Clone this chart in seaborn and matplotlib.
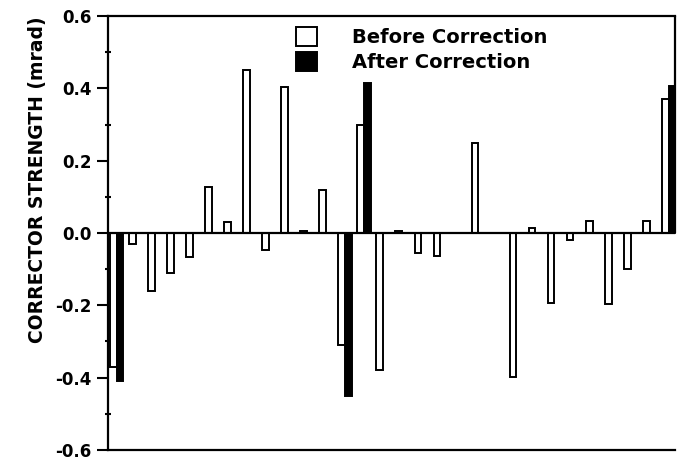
import matplotlib
matplotlib.use("Agg")
import matplotlib.pyplot as plt
import seaborn as sns
import pandas as pd
import numpy as np
from matplotlib.ticker import MultipleLocator
from matplotlib.patches import Patch

positions = list(range(30))
before = [-0.37, -0.03, -0.16, -0.11, -0.065, 0.128, 0.03, 0.45, -0.047, 0.403,
          0.005, 0.12, -0.31, 0.30, -0.38, 0.005, -0.056, -0.063, 0.0, 0.249,
          0.0, -0.397, 0.015, -0.193, -0.02, 0.032, -0.195, -0.10, 0.033, 0.37]
after = [-0.41, 0, 0, 0, 0, 0, 0, 0, 0, 0,
         0, 0, -0.45, 0.415, 0, 0, 0, 0, 0, 0,
         0, 0, 0, 0, 0, 0, 0, 0, 0, 0.407]
series = ["Before Correction", "After Correction"]
ylabel = "CORRECTOR STRENGTH (mrad)"
yticks = [-0.6, -0.4, -0.2, 0.0, 0.2, 0.4, 0.6]

df = pd.DataFrame({
    "pos": positions * 2,
    "value": before + after,
    "series": [series[0]] * len(before) + [series[1]] * len(after),
})

sns.set_theme(style="white")
plt.rcParams["font.family"] = ["DejaVu Sans"]
plt.rcParams["font.weight"] = "bold"
plt.rcParams["axes.unicode_minus"] = False
plt.rcParams["text.color"] = "black"
plt.rcParams["axes.labelcolor"] = "black"
plt.rcParams["ytick.color"] = "black"
plt.rcParams["xtick.color"] = "black"

fig = plt.figure(figsize=(6.77, 4.61), dpi=100)
ax = fig.add_axes([0.1595, 0.024, 0.8375, 0.941])

sns.barplot(data=df, x="pos", y="value", hue="series", hue_order=series,
            palette={series[0]: "white", series[1]: "black"},
            edgecolor="black", linewidth=1.4, width=0.7, dodge=True,
            errorbar=None, ax=ax, legend=False)

ax.axhline(0, color="black", lw=1.6, zorder=5)
ax.set_ylim(-0.6, 0.6)
ax.set_xlim(-0.45, 29.33)
ax.set_xticks([])
ax.set_xlabel("")
ax.set_yticks(yticks)
ax.set_yticklabels([f"{v:.1f}" for v in yticks], fontsize=12, fontweight="bold",
                   color="black")
ax.yaxis.set_minor_locator(MultipleLocator(0.1))
ax.tick_params(axis="y", which="major", direction="out", length=8, width=1.5,
               color="black", labelcolor="black", pad=4, left=True)
ax.tick_params(axis="y", which="minor", direction="inout", length=4, width=1.5,
               color="black", left=True)
ax.set_ylabel(ylabel, fontsize=13.5, fontweight="bold", color="black")
ax.yaxis.set_label_coords(-0.107, 0.622)

for s in ["top", "bottom", "left"]:
    ax.spines[s].set_visible(True)
    ax.spines[s].set_color("black")
    ax.spines[s].set_linewidth(1.6)
ax.spines["right"].set_visible(False)
ax.axvline(ax.get_xlim()[1], ymin=0.5, ymax=1.0, color="black", lw=1.6, clip_on=False)

handles = [Patch(facecolor="white", edgecolor="black", linewidth=1.4),
           Patch(facecolor="black", edgecolor="black", linewidth=1.4)]
leg = ax.legend(handles, series, loc="upper left", bbox_to_anchor=(0.30, 1.015),
                frameon=False, prop={"weight": "bold", "size": 14},
                handlelength=1.1, handleheight=1.1, handletextpad=1.8,
                labelspacing=0.25)
for t in leg.get_texts():
    t.set_color("black")

fig.savefig("out.png", dpi=100)
